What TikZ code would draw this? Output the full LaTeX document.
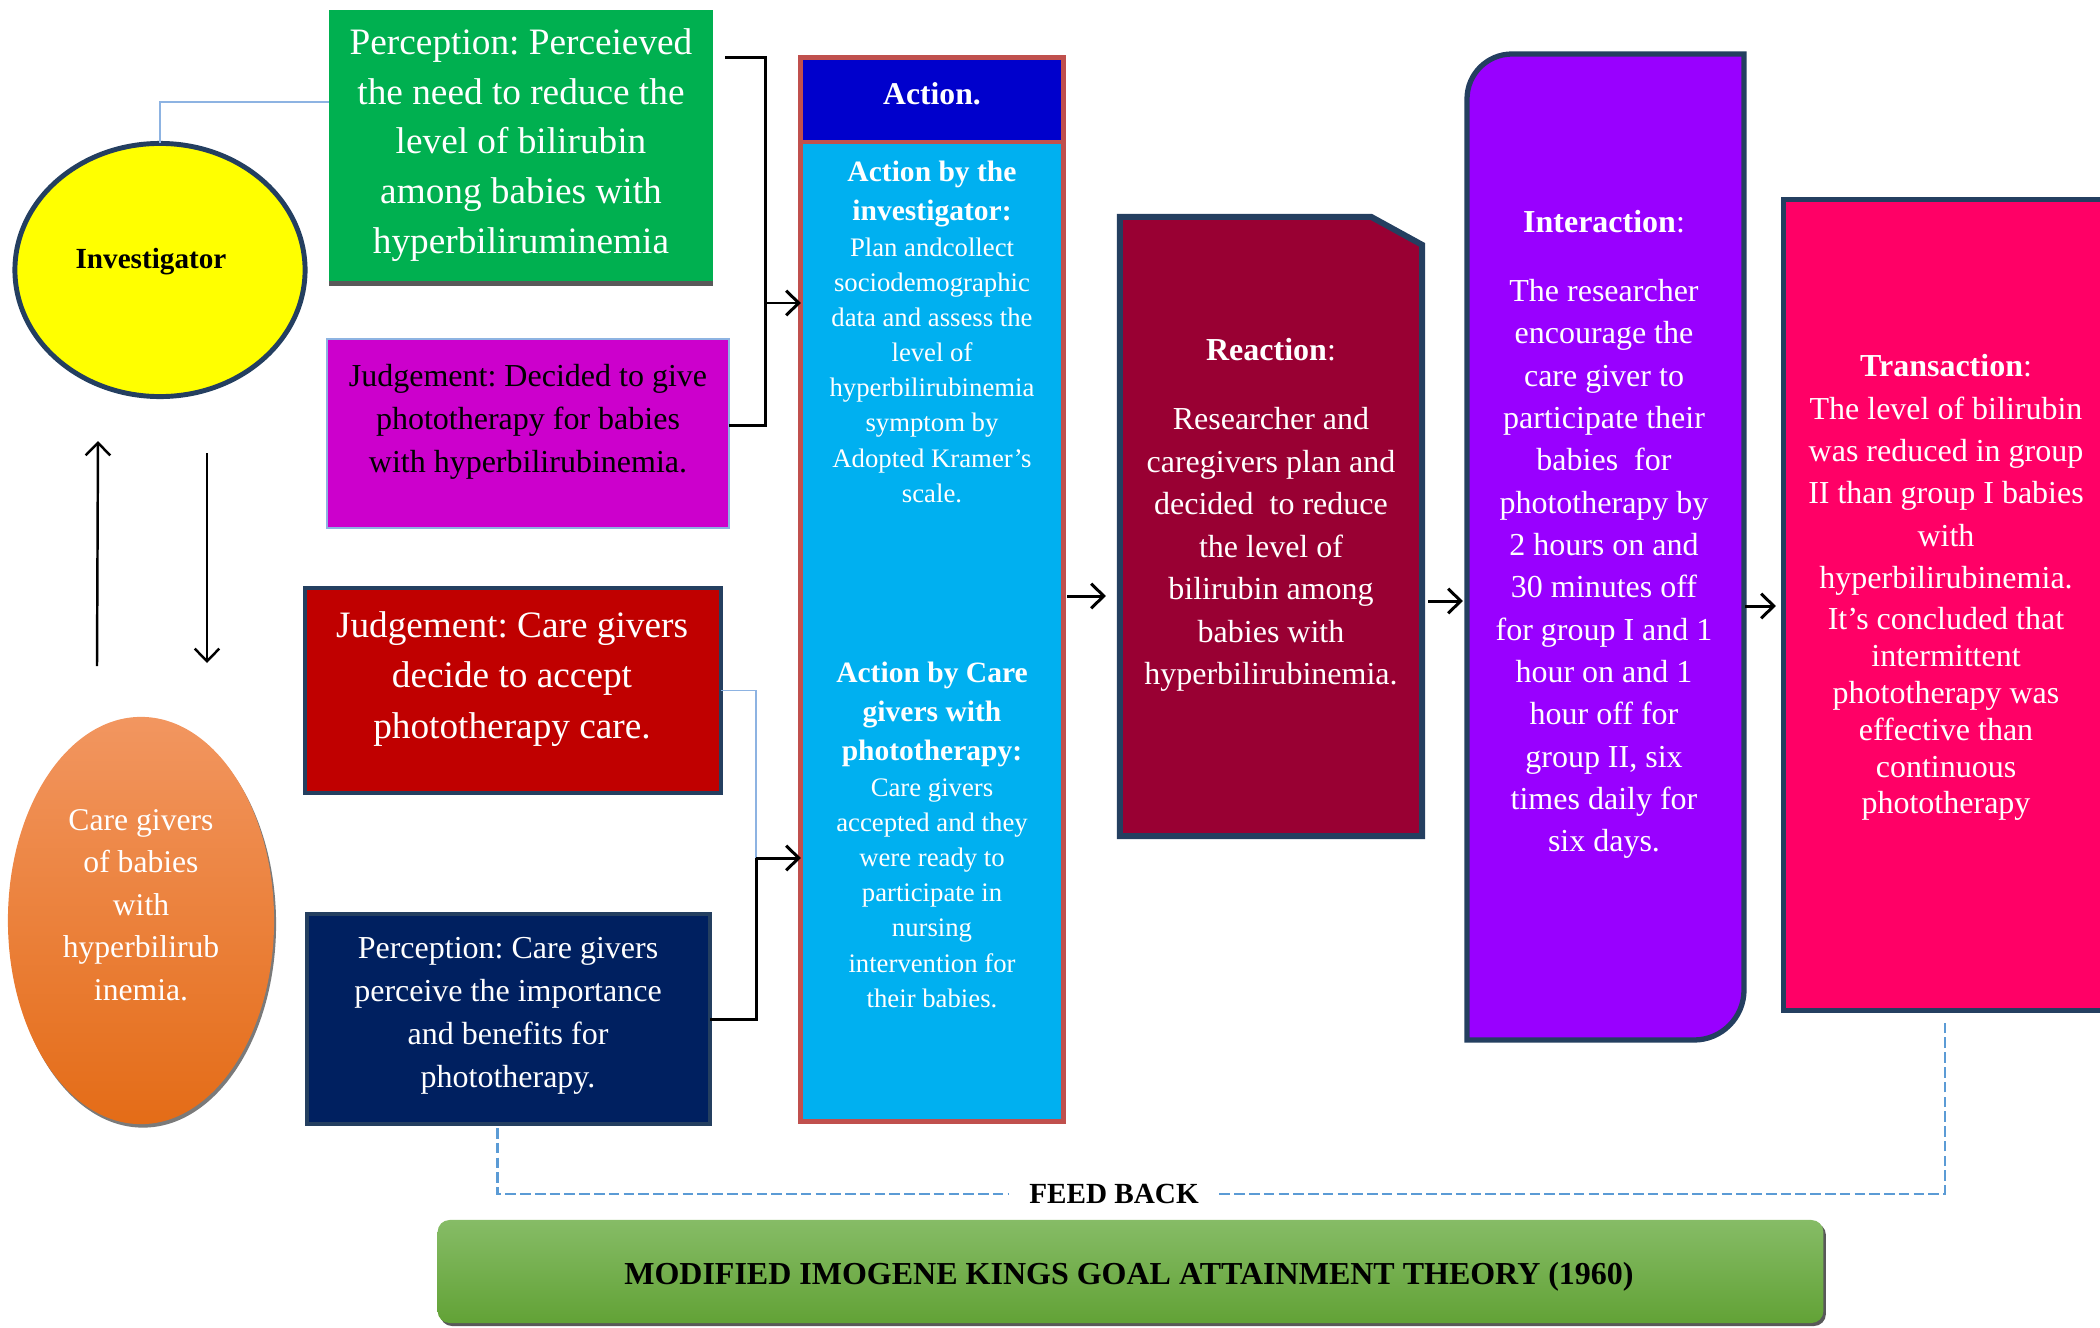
\documentclass[tikz,border=0pt]{standalone}
\usepackage{fontspec}
\setmainfont{Liberation Serif}
\usetikzlibrary{arrows.meta,shapes.geometric,calc}
\definecolor{cgreen}{HTML}{00B050}
\definecolor{cmag}{HTML}{CC00CC}
\definecolor{cred}{HTML}{C00000}
\definecolor{cnavy}{HTML}{002060}
\definecolor{cbord}{HTML}{243F60}
\definecolor{cahead}{HTML}{0000CC}
\definecolor{cabody}{HTML}{00B0F0}
\definecolor{cabord}{HTML}{C0504D}
\definecolor{creact}{HTML}{990033}
\definecolor{cinter}{HTML}{9900FF}
\definecolor{ctrans}{HTML}{FF0066}
\definecolor{cyell}{HTML}{FFFF00}
\definecolor{corangetop}{HTML}{F29660}
\definecolor{corangebot}{HTML}{E46C17}
\definecolor{cbantop}{HTML}{86BC66}
\definecolor{cbanbot}{HTML}{62A236}
\definecolor{clb}{HTML}{8DB3E2}
\definecolor{cfb}{HTML}{5B9BD5}
\definecolor{cshadow}{HTML}{595959}
\newcommand\myfs[2]{\fontsize{#1}{#2}\selectfont\frenchspacing}
\begin{document}
\begin{tikzpicture}[x=0.01cm,y=-0.01cm,
 box/.style={inner sep=0pt, outer sep=0pt},
 txt/.style={align=center, inner sep=0pt, text=white},
 blk/.style={line width=0.85pt, draw=black},
 arr/.style={line width=0.85pt, draw=black, -{Straight Barb[length=3.6pt,width=7pt]}},
 lbl/.style={line width=0.45pt, draw=clb},
 fb/.style={line width=0.7pt, draw=cfb, dash pattern=on 3pt off 1.2pt}]
\useasboundingbox (0,0) rectangle (2100,1327);
\begin{scope}
\clip (0,0) rectangle (2100,1327);

% Investigator
\node[box, ellipse, draw=cbord, line width=1.4pt, fill=cyell, minimum width=2.9cm, minimum height=2.53cm] (inv) at (160,270) {};
\node[txt, text=black, font=\myfs{8.3}{10}\bfseries] (invt) at (151,262) {Investigator};

% Care givers ellipse
\node[box, ellipse, fill=cshadow!80, minimum width=2.66cm, minimum height=4.07cm] (careshadow) at (143,924) {};
\node[box, ellipse, top color=corangetop, bottom color=corangebot, minimum width=2.66cm, minimum height=4.07cm] (care) at (141,920.5) {};
\node[txt, font=\myfs{9}{12.1}] (caret) at (141,905) {Care givers\\of babies\\with\\hyperbilirub\\inemia.};

% Green perception
\node[box, fill=cgreen, minimum width=3.84cm, minimum height=2.71cm] (green) at (521,145.5) {};
\fill[cshadow] (green.south west) rectangle ($(green.south east)+(0,5)$);
\node[txt, font=\myfs{10.6}{14.1}] (greent) at (521,145) {Perception: Perceieved\\the need to reduce the\\level of bilirubin\\among babies with\\hyperbiliruminemia};

% Magenta judgement
\node[box, fill=cmag, draw=clb, line width=0.6pt, minimum width=4.02cm, minimum height=1.89cm] (mag) at (528,433.5) {};
\node[txt, text=black, font=\myfs{9.1}{12.2}] (magt) at (528,422) {Judgement: Decided to give\\phototherapy for babies\\with hyperbilirubinemia.};

% Red judgement
\node[box, fill=cred, draw=cbord, line width=1.3pt, minimum width=4.16cm, minimum height=2.05cm] (red) at (513,690.5) {};
\node[txt, font=\myfs{10.6}{14.3}] (redt) at (512,679) {Judgement: Care givers\\decide to accept\\phototherapy care.};

% Navy perception
\node[box, fill=cnavy, draw=cbord, line width=1.3pt, minimum width=4.03cm, minimum height=2.10cm] (navy) at (508.5,1019) {};
\node[txt, font=\myfs{9.1}{12.2}] (navyt) at (508,1015.5) {Perception: Care givers\\perceive the importance\\and benefits for\\phototherapy.};

% Action
\node[box, fill=cabody, draw=cabord, line width=1.4pt, minimum width=2.62cm, minimum height=10.63cm] (action) at (932,589.5) {};
\node[box, fill=cahead, draw=cabord, line width=1.4pt, minimum width=2.62cm, minimum height=0.84cm] (acthead) at (932,100) {};
\node[txt, font=\myfs{9}{11}\bfseries] (actheadt) at (932,94) {Action.};
\node[txt, font=\myfs{8.4}{11.1}\bfseries] (ah1) at (932,194) {Action by the\\investigator:};
\node[txt, font=\myfs{7.6}{10}] (ab1) at (932,370) {Plan andcollect\\sociodemographic\\data and assess the\\level of\\hyperbilirubinemia\\symptom by\\Adopted Kramer’s\\scale.};
\node[txt, font=\myfs{8.4}{11.1}\bfseries] (ah2) at (932,714) {Action by Care\\givers with\\phototherapy:};
\node[txt, font=\myfs{7.6}{10}] (ab2) at (932,893) {Care givers\\accepted and they\\were ready to\\participate in\\nursing\\intervention for\\their babies.};

% Reaction
\node[box, minimum width=3.02cm, minimum height=6.19cm] (reaction) at (1271,526.5) {};
\draw[fill=creact, draw=cbord, line width=1.7pt] (reaction.south west) -- (reaction.north west) -- ($(reaction.north east)+(-51,0)$) -- ($(reaction.north east)+(0,28)$) -- (reaction.south east) -- cycle;
\node[txt, font=\myfs{9.1}{12.1}] (reacth) at (1271,350) {\textbf{Reaction}:};
\node[txt, font=\myfs{9.1}{12.1}] (reactb) at (1271,549.5) {Researcher and\\caregivers plan and\\decided\ \ to reduce\\the level of\\bilirubin among\\babies with\\hyperbilirubinemia.};

% Interaction
\node[box, minimum width=2.77cm, minimum height=9.86cm] (inter) at (1605.5,547) {};
\draw[fill=cinter, draw=cbord, line width=1.5pt] (1467,1040) -- (1467,99) .. controls (1467,74.1) and (1487.1,54) .. (1512,54) -- (1744,54) -- (1744,990) .. controls (1744,1017.6) and (1721.6,1040) .. (1694,1040) -- cycle;
\node[txt, font=\myfs{9.1}{12}] (interh) at (1604,222) {\textbf{Interaction}:};
\node[txt, font=\myfs{9.1}{12.04}] (interb) at (1604,569) {The researcher\\encourage the\\care giver to\\participate their\\babies\ \ for\\phototherapy by\\2 hours on and\\30 minutes off\\for group I and 1\\hour on and 1\\hour off for\\group II, six\\times daily for\\six days.};

% Transaction
\node[box, fill=ctrans, draw=cbord, line width=1.4pt, minimum width=3.36cm, minimum height=8.10cm] (trans) at (1952,605) {};
\node[txt, font=\myfs{9.1}{12.03}] (transt1) at (1946,475) {\textbf{Transaction}:\\The level of bilirubin\\was reduced in group\\II than group I babies\\with\\hyperbilirubinemia.};
\node[txt, font=\myfs{9.1}{10.5}] (transt2) at (1946,714) {It’s concluded that\\intermittent\\phototherapy was\\effective than\\continuous\\phototherapy};

% Banner
\node[box, fill=cshadow, rounded corners=0.12cm, minimum width=13.85cm, minimum height=1.03cm] (banshadow) at (1133,1274.5) {};
\node[box, top color=cbantop, bottom color=cbanbot, rounded corners=0.12cm, minimum width=13.85cm, minimum height=1.03cm] (banner) at (1130.5,1271.5) {};
\node[txt, text=black, font=\myfs{9.1}{11}\bfseries] (bant) at (1129,1277) {MODIFIED IMOGENE KINGS GOAL ATTAINMENT THEORY (1960)};

% Feed back
\node[txt, text=black, font=\myfs{8.3}{10}\bfseries, inner xsep=0.2cm] (feed) at (1114,1194) {FEED BACK};
\draw[fb] ($(navy.south)+(-11,4)$) |- (feed.west);
\draw[fb] (feed.east) -| ($(trans.south west)+(161,11)$);

% Connectors
\draw[lbl] (inv.north) |- ($(green.north west)+(0,92)$);
\coordinate (jn1) at (765,303);
\draw[blk] ($(green.north east)+(12,48)$) -| (jn1) |- ($(mag.north east)+(0,87)$);
\draw[arr] (jn1) -- (action.west |- jn1);
\coordinate (jn2) at (756,858);
\draw[lbl] (red.east) -| (jn2);
\draw[blk] (navy.east) -| (jn2);
\draw[arr] (jn2) -- (action.west |- jn2);

\coordinate (up1) at (97,666);
\coordinate (up2) at (98,441);
\draw[arr, line width=0.7pt] (up1) -- (up2);
\coordinate (dn1) at (207,453);
\coordinate (dn2) at (207,663);
\draw[arr, line width=0.7pt] (dn1) -- (dn2);

\draw[arr] ($(action.east)+(4,6.5)$) -- ($(reaction.west)+(-14,69.5)$);
\draw[arr] ($(reaction.east)+(6,74.5)$) -- ($(inter.west)+(-4,54)$);
\draw[arr] ($(inter.east)+(1,59)$) -- ($(trans.west)+(-8,1)$);
\end{scope}
\end{tikzpicture}
\end{document}
